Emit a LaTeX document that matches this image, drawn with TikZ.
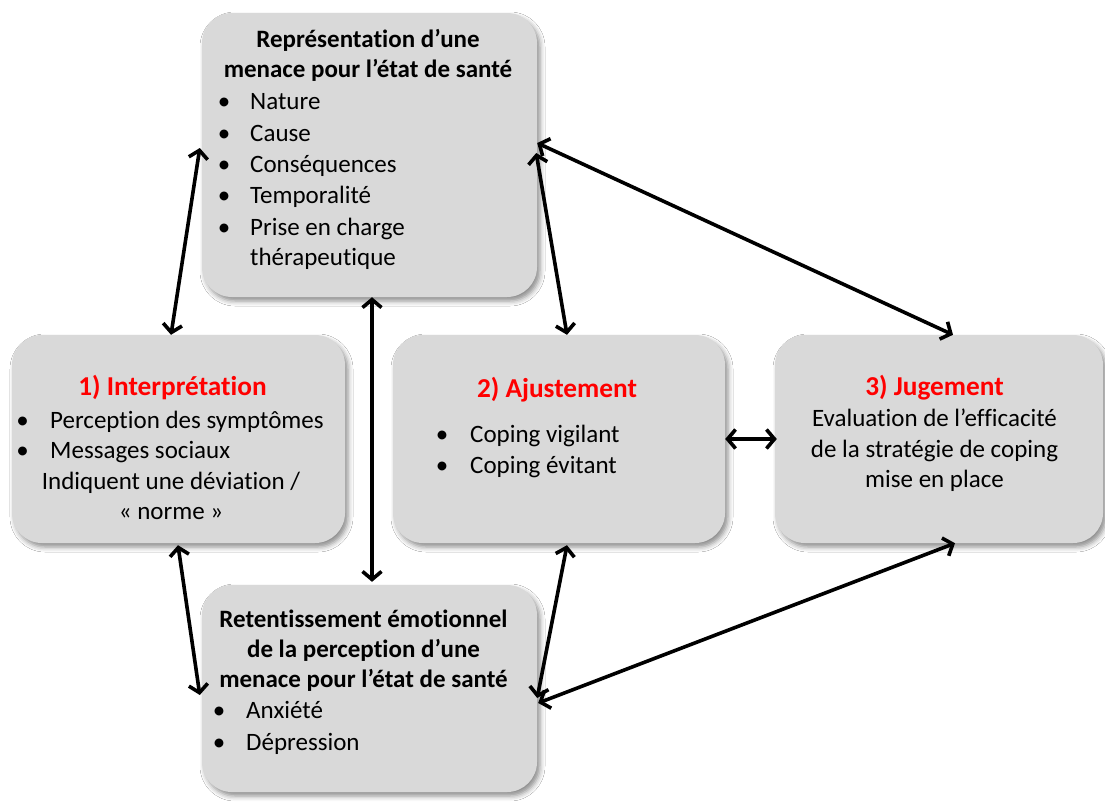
\documentclass[tikz,border=0pt]{standalone}
\usepackage{fontspec}
\setmainfont{Carlito}[Ligatures=NoCommon]
\usetikzlibrary{arrows.meta}
\IfFileExists{tikzlibraryshadows.blur.code.tex}
 {\usetikzlibrary{shadows.blur}
  \tikzset{boxshadow/.style={blur shadow={shadow xshift=3pt, shadow yshift=-4pt, shadow blur radius=5pt, shadow opacity=45}}}}
 {\usetikzlibrary{shadows}
  \tikzset{boxshadow/.style={drop shadow={shadow xshift=3pt, shadow yshift=-3pt, opacity=0.35}}}}
\definecolor{boxgray}{HTML}{D9D9D9}
\tikzset{
  box/.style={rectangle, rounded corners=30pt, fill=boxgray, draw=none, inner sep=0pt, boxshadow},
  txt/.style={inner sep=0pt, anchor=base, font=\fontsize{25}{30}\selectfont},
  txtl/.style={txt, anchor=base west},
  ttl/.style={txt, font=\fontsize{25}{30}\selectfont\bfseries},
  redttl/.style={txt, font=\fontsize{27.3}{32}\selectfont\bfseries, text=red},
  bul/.style={txt},
  link/.style={line width=3.6pt, {Straight Barb[length=8pt,width=19pt]}-{Straight Barb[length=8pt,width=19pt]}}
}
\begin{document}
\begin{tikzpicture}[x=1pt,y=-1pt]
\useasboundingbox (0,0) rectangle (1105,801);
\fill[white] (0,0) rectangle (1105,801);

% boxes
\node[box, minimum width=335pt, minimum height=284pt] (rep) at (369.5,155) {};
\node[box, minimum width=333pt, minimum height=208pt] (interp) at (178.5,439) {};
\node[box, minimum width=332pt, minimum height=208pt] (ajust) at (559,439) {};
\node[box, minimum width=328pt, minimum height=208pt] (jug) at (939,439) {};
\node[box, minimum width=335pt, minimum height=207pt] (ret) at (369.5,688.5) {};

% representation of the threat
\node[ttl] (rept1) at (368,47) {Représentation d’une};
\node[ttl] (rept2) at (368,77) {menace pour l’état de santé};
\node[bul] (repb1) at (224,109) {\textbullet};
\node[txtl] (repi1) at (250,109) {Nature};
\node[bul] (repb2) at (224,141) {\textbullet};
\node[txtl] (repi2) at (250,141) {Cause};
\node[bul] (repb3) at (224,172) {\textbullet};
\node[txtl] (repi3) at (250,172) {Conséquences};
\node[bul] (repb4) at (224,203) {\textbullet};
\node[txtl] (repi4) at (250,203) {Temporalité};
\node[bul] (repb5) at (224,235) {\textbullet};
\node[txtl] (repi5) at (250,235) {Prise en charge};
\node[txtl] (repi6) at (250,265) {thérapeutique};

% 1) interpretation
\node[redttl] (intt) at (172.5,395) {1) Interprétation};
\node[bul] (intb1) at (22.5,428) {\textbullet};
\node[txtl] (inti1) at (50,428) {Perception des symptômes};
\node[bul] (intb2) at (22.5,458) {\textbullet};
\node[txtl] (inti2) at (50,458) {Messages sociaux};
\node[txt] (inti3) at (171,489) {Indiquent une déviation /};
\node[txt] (inti4) at (171,519) {« norme »};

% 2) adjustment
\node[redttl] (ajut) at (557,397) {2) Ajustement};
\node[bul] (ajub1) at (442,442) {\textbullet};
\node[txtl] (ajui1) at (470,442) {Coping vigilant};
\node[bul] (ajub2) at (442,473) {\textbullet};
\node[txtl] (ajui2) at (470,473) {Coping évitant};

% 3) judgement
\node[redttl] (jugt) at (934.5,395) {3) Jugement};
\node[txt] (jugi1) at (934.5,426) {Evaluation de l’efficacité};
\node[txt] (jugi2) at (934.5,457) {de la stratégie de coping};
\node[txt] (jugi3) at (934.5,487) {mise en place};

% emotional impact
\node[ttl] (rett1) at (363.5,627) {Retentissement émotionnel};
\node[ttl] (rett2) at (363.5,657) {de la perception d’une};
\node[ttl] (rett3) at (363.5,687) {menace pour l’état de santé};
\node[bul] (retb1) at (219,718) {\textbullet};
\node[txtl] (reti1) at (246,718) {Anxiété};
\node[bul] (retb2) at (219,750) {\textbullet};
\node[txtl] (reti2) at (246,750) {Dépression};

% links
\draw[link] ([yshift=7pt,xshift=-2pt]rep.west) -- ([xshift=-7.5pt]interp.north);
\draw[link] ([xshift=2.5pt]rep.south) -- ([xshift=2.5pt,yshift=3pt]ret.north);
\draw[link] ([yshift=2pt,xshift=-1pt]rep.east) -- ([xshift=8pt]ajust.north);
\draw[link] ([yshift=12pt]rep.east) -- ([xshift=14pt]jug.north);
\draw[link] (ajust.east) -- ([xshift=2pt]jug.west);
\draw[link] ([xshift=-0.5pt,yshift=-2pt]interp.south) -- ([yshift=-6.5pt,xshift=-2pt]ret.west);
\draw[link] ([xshift=8pt,yshift=-2pt]ajust.south) -- ([yshift=-9.5pt]ret.east);
\draw[link] ([xshift=16pt]jug.south) -- ([yshift=-14.5pt,xshift=1pt]ret.east);
\end{tikzpicture}
\end{document}
